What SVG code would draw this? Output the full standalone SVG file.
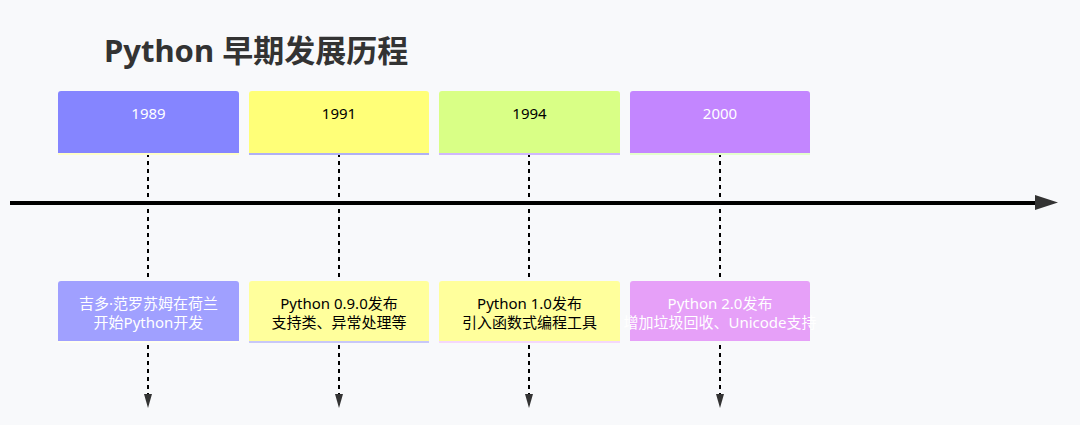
<svg xmlns="http://www.w3.org/2000/svg" width="1080" height="425" viewBox="0 0 1080 425">
<defs>
<style>
.t{font-family:"Noto Sans","Noto Sans CJK SC",sans-serif;font-size:15px;text-anchor:middle}
.title{font-family:"Noto Sans","Noto Sans CJK SC",sans-serif;font-size:31px;font-weight:bold;fill:#333}
.dash{stroke:#000;stroke-width:2;stroke-dasharray:4,4;fill:none}
.ah{fill:#333}
</style>
</defs>
<rect width="1080" height="425" fill="#f8f9fb"/>
<text class="title" x="104" y="62">Python 早期发展历程</text>
<g id="connectors">
<line x1="10" y1="203" x2="1038" y2="203" stroke="#000" stroke-width="4"/>
<polygon class="ah" points="1035,195 1058,202.5 1035,210"/>
<path class="dash" d="M148,153 V396"/>
<path class="dash" d="M339,153 V396"/>
<path class="dash" d="M529,153 V396"/>
<path class="dash" d="M720,153 V396"/>
<polygon class="ah" points="144,394 152,394 148,408"/>
<polygon class="ah" points="335,394 343,394 339,408"/>
<polygon class="ah" points="525,394 533,394 529,408"/>
<polygon class="ah" points="716,394 724,394 720,408"/>
</g>
<g id="p1989">
<rect x="58" y="151" width="181" height="4" fill="#ffffc8"/>
<path d="M61,91 H236 Q239,91 239,94 V153 H58 V94 Q58,91 61,91 Z" fill="#8585ff"/>
<text class="t" x="148.5" y="119" fill="#fff">1989</text>
</g>
<g id="p1991">
<rect x="249" y="151" width="180" height="4" fill="#b0b0f4"/>
<path d="M252,91 H426 Q429,91 429,94 V153 H249 V94 Q249,91 252,91 Z" fill="#ffff78"/>
<text class="t" x="339" y="119" fill="#000">1991</text>
</g>
<g id="p1994">
<rect x="439" y="151" width="181" height="4" fill="#d0b8fc"/>
<path d="M442,91 H617 Q620,91 620,94 V153 H439 V94 Q439,91 442,91 Z" fill="#d9ff86"/>
<text class="t" x="529.5" y="119" fill="#000">1994</text>
</g>
<g id="p2000">
<rect x="630" y="151" width="180" height="4" fill="#e4ffcc"/>
<path d="M633,91 H807 Q810,91 810,94 V153 H630 V94 Q630,91 633,91 Z" fill="#c386ff"/>
<text class="t" x="720" y="119" fill="#fff">2000</text>
</g>
<g id="e1989">
<rect x="58" y="339" width="181" height="4" fill="#fffff0"/>
<path d="M61,281 H236 Q239,281 239,284 V341 H58 V284 Q58,281 61,281 Z" fill="#a0a0ff"/>
<text class="t" x="148.5" y="309" fill="#fff">吉多·范罗苏姆在荷兰</text>
<text class="t" x="148.5" y="328" fill="#fff">开始Python开发</text>
</g>
<g id="e1991">
<rect x="249" y="339" width="180" height="4" fill="#c8c8f8"/>
<path d="M252,281 H426 Q429,281 429,284 V341 H249 V284 Q249,281 252,281 Z" fill="#ffff9c"/>
<text class="t" x="339" y="309" fill="#000">Python 0.9.0发布</text>
<text class="t" x="339" y="328" fill="#000">支持类、异常处理等</text>
</g>
<g id="e1994">
<rect x="439" y="339" width="181" height="4" fill="#f4d8fc"/>
<path d="M442,281 H617 Q620,281 620,284 V341 H439 V284 Q439,281 442,281 Z" fill="#ffff9c"/>
<text class="t" x="529.5" y="309" fill="#000">Python 1.0发布</text>
<text class="t" x="529.5" y="328" fill="#000">引入函数式编程工具</text>
</g>
<g id="e2000">
<path d="M633,281 H807 Q810,281 810,284 V341 H630 V284 Q630,281 633,281 Z" fill="#e6a0f8"/>
<text class="t" x="720" y="309" fill="#fff">Python 2.0发布</text>
<text class="t" x="720" y="328" fill="#fff">增加垃圾回收、Unicode支持</text>
</g>
</svg>
